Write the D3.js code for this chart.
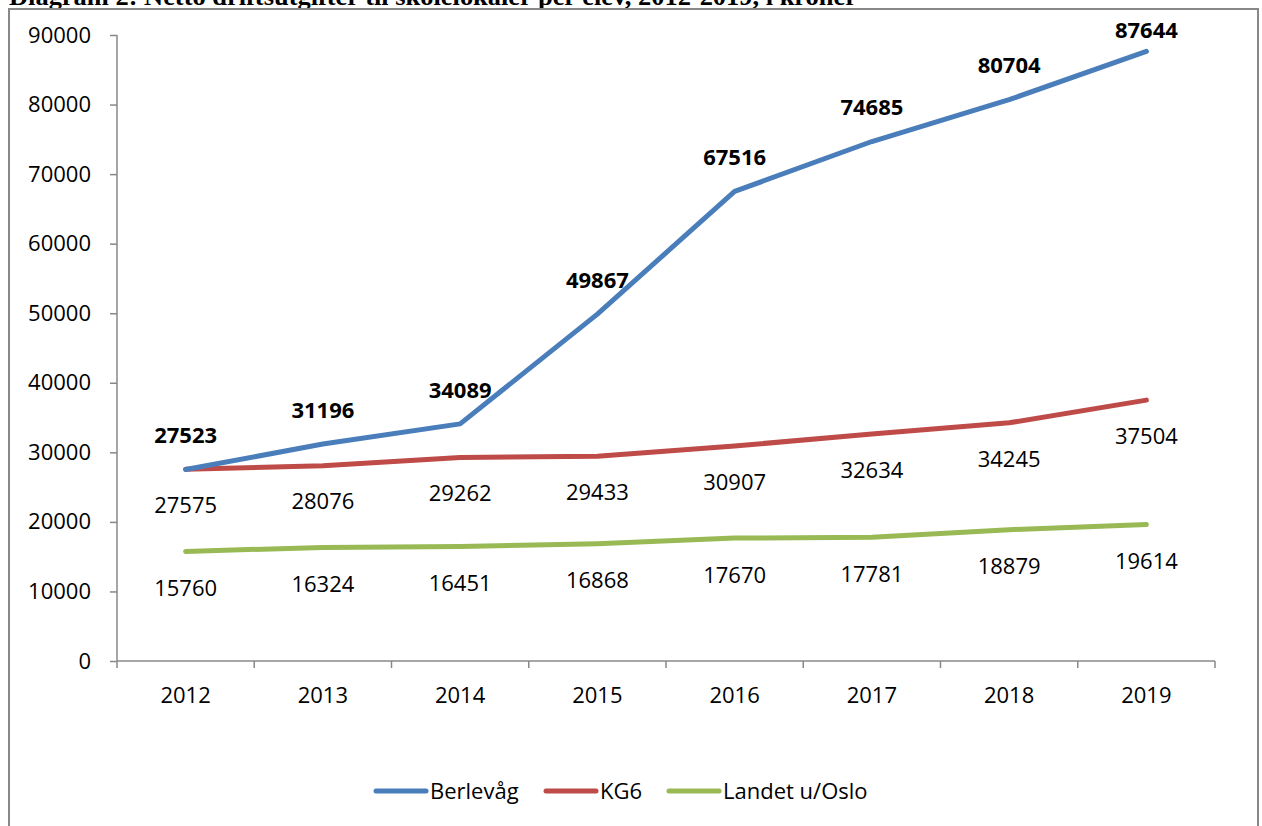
<!DOCTYPE html>
<html>
<head>
<meta charset="utf-8">
<script src="https://cdn.jsdelivr.net/npm/d3@7"></script>
<style>
  body { margin: 0; background: #fff; }
  svg { display: block; }
</style>
</head>
<body>
<svg width="1262" height="826"></svg>
<script>
// data
var years = ["2012", "2013", "2014", "2015", "2016", "2017", "2018", "2019"];
var berlevag = [27523, 31196, 34089, 49867, 67516, 74685, 80704, 87644];
var kg6 = [27575, 28076, 29262, 29433, 30907, 32634, 34245, 37504];
var landet = [15760, 16324, 16451, 16868, 17670, 17781, 18879, 19614];
var yTicks = [0, 10000, 20000, 30000, 40000, 50000, 60000, 70000, 80000, 90000];

var series = [
    {name: "Berlevåg", values: berlevag, color: "#4a7ebb", bold: true, dy: -34},
    {name: "KG6", values: kg6, color: "#be4b48", bold: false, dy: 36},
    {name: "Landet u/Oslo", values: landet, color: "#98b954", bold: false, dy: 37}
];

var svg = d3.select("svg");
var font = "'Open Sans', 'Noto Sans', sans-serif";
var fs = 22;

// title, cut off at the top in the original
svg.append("text")
    .attr("x", 9).attr("y", 5)
    .attr("font-family", "'Liberation Serif', serif")
    .attr("font-weight", "bold")
    .attr("font-size", 26)
    .attr("textLength", 848)
    .attr("lengthAdjust", "spacingAndGlyphs")
    .text("Diagram 2: Netto driftsutgifter til skolelokaler per elev, 2012-2019, i kroner");

// chart frame
svg.append("rect")
    .attr("x", 9).attr("y", 9)
    .attr("width", 1249).attr("height", 830)
    .attr("fill", "none")
    .attr("stroke", "#888")
    .attr("stroke-width", 2);

var x = d3.scaleBand().domain(years).range([117, 1215]);
var y = d3.scaleLinear().domain([0, 90000]).range([661, 35]);

// y axis
var yAxis = svg.append("g")
    .attr("transform", "translate(117,0)")
    .call(d3.axisLeft(y).tickValues(yTicks).tickSize(7).tickPadding(19).tickFormat(d3.format("d")));
yAxis.selectAll("text").attr("font-family", font).attr("font-size", fs).attr("fill", "#000");
yAxis.selectAll("line, path").attr("stroke", "#888").attr("stroke-width", 1.5);
yAxis.select(".domain").attr("d", "M0," + y(0) + "V" + y(90000));

// x axis, ticks at band edges
var xAxis = svg.append("g").attr("transform", "translate(0," + y(0) + ")");
xAxis.append("line")
    .attr("x1", 117).attr("x2", 1215)
    .attr("stroke", "#888").attr("stroke-width", 1.5);
xAxis.selectAll(".edge")
    .data(years.concat(["end"]))
    .enter().append("line")
    .attr("x1", function(d, i) { return 117 + i * x.step(); })
    .attr("x2", function(d, i) { return 117 + i * x.step(); })
    .attr("y1", 0).attr("y2", 7)
    .attr("stroke", "#888").attr("stroke-width", 1.5);
xAxis.selectAll(".yl")
    .data(years)
    .enter().append("text")
    .attr("x", function(d) { return x(d) + x.bandwidth() / 2; })
    .attr("y", 42)
    .attr("text-anchor", "middle")
    .attr("font-family", font).attr("font-size", fs)
    .text(function(d) { return d; });

var line = d3.line()
    .x(function(d, i) { return x(years[i]) + x.bandwidth() / 2; })
    .y(function(d) { return y(d); });

// draw green first so blue sits on top
series.slice().reverse().forEach(function(s) {
    svg.append("path")
        .datum(s.values)
        .attr("d", line)
        .attr("fill", "none")
        .attr("stroke", s.color)
        .attr("stroke-width", 5)
        .attr("stroke-linecap", "round")
        .attr("stroke-linejoin", "round");
});

series.forEach(function(s) {
    svg.selectAll(null)
        .data(s.values)
        .enter().append("text")
        .attr("x", function(d, i) { return x(years[i]) + x.bandwidth() / 2; })
        .attr("y", function(d) { return Math.max(y(d) + s.dy, 30); }) // keep inside the frame
        .attr("dy", "0.35em")
        .attr("text-anchor", "middle")
        .attr("font-family", font)
        .attr("font-size", fs)
        .attr("font-weight", s.bold ? "bold" : "normal")
        .text(function(d) { return d; });
});

// legend
var legendX = [376, 546, 669];
var legend = svg.selectAll(".legend")
    .data(series)
    .enter().append("g")
    .attr("transform", function(d, i) { return "translate(" + legendX[i] + ",791)"; });
legend.append("line")
    .attr("x1", 0).attr("x2", 50)
    .attr("stroke", function(d) { return d.color; })
    .attr("stroke-width", 5)
    .attr("stroke-linecap", "round");
legend.append("text")
    .attr("x", 54).attr("dy", "0.35em")
    .attr("font-family", font).attr("font-size", fs)
    .text(function(d) { return d.name; });
</script>
</body>
</html>
